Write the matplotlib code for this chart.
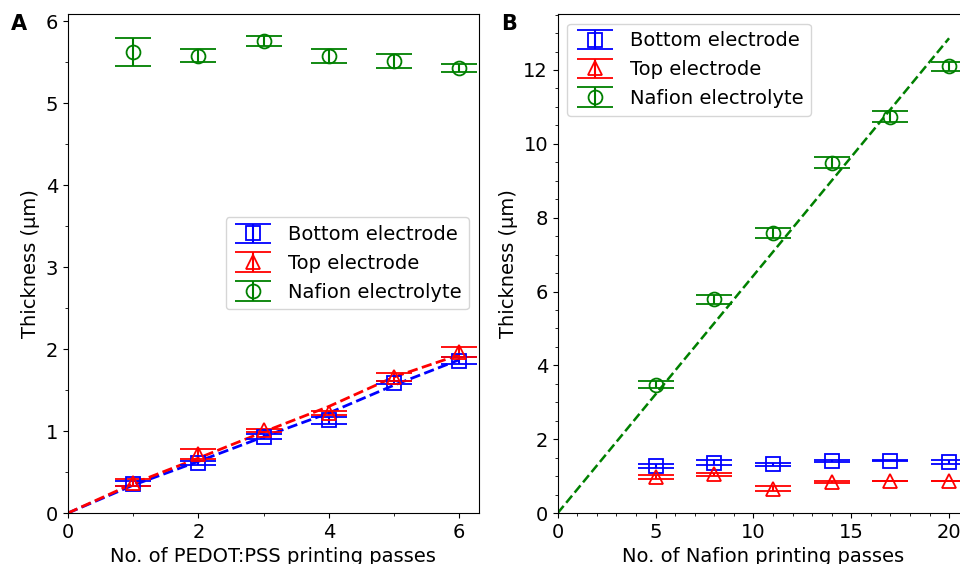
import numpy as np
import matplotlib
matplotlib.use("Agg")
from matplotlib import pyplot as plt
from matplotlib.ticker import MultipleLocator

plt.rcParams['font.family'] = ['DejaVu Sans']
plt.rcParams['font.size'] = 14

# panel A - PEDOT:PSS passes
passes_a = [1, 2, 3, 4, 5, 6]
bottom_a = [0.36, 0.61, 0.93, 1.13, 1.59, 1.86]
bottom_a_err = [0.03, 0.03, 0.03, 0.045, 0.02, 0.04]
top_a = [0.37, 0.72, 1.01, 1.22, 1.66, 1.96]
top_a_err = [0.04, 0.057, 0.02, 0.025, 0.05, 0.06]
nafion_a = [5.62, 5.58, 5.76, 5.58, 5.51, 5.43]
nafion_a_err = [0.17, 0.08, 0.058, 0.086, 0.086, 0.05]

# dashed guide lines in A (start at origin)
line_x_a = [0, 1, 2, 3, 4, 5, 6]
bottom_line_a = [0, 0.34, 0.63, 0.93, 1.22, 1.56, 1.87]
top_line_a = [0, 0.36, 0.67, 0.99, 1.30, 1.66, 1.93]

# panel B - Nafion passes
passes_b = [5, 8, 11, 14, 17, 20]
bottom_b = [1.27, 1.36, 1.32, 1.41, 1.42, 1.39]
bottom_b_err = [0.055, 0.065, 0.045, 0.02, 0.01, 0.05]
top_b = [0.97, 1.05, 0.66, 0.85, 0.87, 0.87]
top_b_err = [0.05, 0.04, 0.06, 0.03, 0.01, 0.01]
nafion_b = [3.48, 5.79, 7.58, 9.49, 10.73, 12.1]
nafion_b_err = [0.1, 0.12, 0.13, 0.15, 0.15, 0.12]

fit_x_b = [0, 20]
fit_y_b = [0, 12.86]

labels = ['Bottom electrode', 'Top electrode', 'Nafion electrolyte']

fig = plt.figure(figsize=(9.6, 5.64), dpi=100)
ax1 = fig.add_axes([0.0708, 0.0904, 0.428, 0.885])
ax2 = fig.add_axes([0.581, 0.0904, 0.428, 0.885])

ekw = dict(capsize=13, markersize=10, markerfacecolor='none', linestyle='none',
           elinewidth=1.5, capthick=1.5, markeredgewidth=1.3)

# A
ax1.plot(line_x_a, bottom_line_a, '--', color='blue', lw=2)
ax1.plot(line_x_a, top_line_a, '--', color='red', lw=2)
ax1.errorbar(passes_a, bottom_a, yerr=bottom_a_err, marker='s', color='blue', label=labels[0], **ekw)
ax1.errorbar(passes_a, top_a, yerr=top_a_err, marker='^', color='red', label=labels[1], **ekw)
ax1.errorbar(passes_a, nafion_a, yerr=nafion_a_err, marker='o', color='green', label=labels[2], **ekw)
ax1.set_xlim(0, 6.3)
ax1.set_ylim(0, 6.09)
ax1.xaxis.set_major_locator(MultipleLocator(2))
ax1.xaxis.set_minor_locator(MultipleLocator(1))
ax1.yaxis.set_major_locator(MultipleLocator(1))
ax1.yaxis.set_minor_locator(MultipleLocator(0.5))
ax1.set_xlabel('No. of PEDOT:PSS printing passes')
ax1.set_ylabel('Thickness (µm)')
ax1.legend(loc='center right')

# B
ax2.plot(fit_x_b, fit_y_b, '--', color='green', lw=1.8)
ax2.errorbar(passes_b, bottom_b, yerr=bottom_b_err, marker='s', color='blue', label=labels[0], **ekw)
ax2.errorbar(passes_b, top_b, yerr=top_b_err, marker='^', color='red', label=labels[1], **ekw)
ax2.errorbar(passes_b, nafion_b, yerr=nafion_b_err, marker='o', color='green', label=labels[2], **ekw)
ax2.set_xlim(0, 21)
ax2.set_ylim(0, 13.52)
ax2.xaxis.set_major_locator(MultipleLocator(5))
ax2.xaxis.set_minor_locator(MultipleLocator(1))
ax2.yaxis.set_major_locator(MultipleLocator(2))
ax2.yaxis.set_minor_locator(MultipleLocator(0.5))
ax2.set_xlabel('No. of Nafion printing passes')
ax2.set_ylabel('Thickness (µm)')
ax2.legend(loc='upper left')

fig.text(0.011, 0.958, 'A', fontsize=15, fontweight='bold', va='center')
fig.text(0.522, 0.958, 'B', fontsize=15, fontweight='bold', va='center')

fig.savefig('out.png', dpi=100)
